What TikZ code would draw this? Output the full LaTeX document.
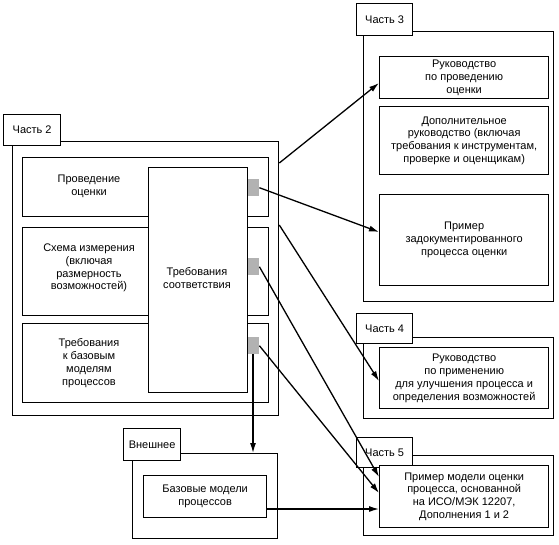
\documentclass[tikz,border=0pt]{standalone}
\usepackage{fontspec}
\setmainfont{Liberation Sans}
\usetikzlibrary{positioning, calc, arrows.meta}

\tikzset{
	frame/.style={draw, line width=1.3pt, fill=white, anchor=north west, inner sep=0pt},
	tag/.style={frame, font=\fontsize{11}{13}\selectfont},
	tab/.style={fill=black!30, anchor=north west, inner sep=0pt, minimum width=11pt, minimum height=17pt},
	txt/.style={align=center, inner sep=0pt, font=\fontsize{11}{12.8}\selectfont},
	link/.style={line width=1.3pt, -{Latex[length=10pt,width=6pt]}}
}

\begin{document}
\begin{tikzpicture}[x=1pt, y=-1pt]
	\useasboundingbox (0,0) rectangle (559,544);
	% outer frames
	\node[frame, minimum width=266pt, minimum height=274pt] (p2) at (12,141) {};
	\node[frame, minimum width=190pt, minimum height=270pt] (p3) at (363,31) {};
	\node[frame, minimum width=190pt, minimum height=81pt] (p4) at (363,337) {};
	\node[frame, minimum width=190pt, minimum height=80pt] (p5) at (363,455) {};
	\node[frame, minimum width=145pt, minimum height=85pt] (ext) at (132,453) {};
	% labels
	\node[tag, minimum width=57pt, minimum height=31pt] (p2l) at (3,114) {Часть 2};
	\node[tag, minimum width=56pt, minimum height=32pt] (p3l) at (356,3) {Часть 3};
	\node[tag, minimum width=56pt, minimum height=30pt] (p4l) at (356,313) {Часть 4};
	\node[tag, minimum width=56pt, minimum height=30pt] (p5l) at (356,437) {Часть 5};
	\node[tag, minimum width=57pt, minimum height=32pt] (extl) at (123,428) {Внешнее};

	% part 2
	\node[frame, minimum width=246pt, minimum height=59pt] (b1) at (22,157) {};
	\node[frame, minimum width=246pt, minimum height=88pt] (b2) at (22,227) {};
	\node[frame, minimum width=246pt, minimum height=79pt] (b3) at (22,323) {};
	\node[frame, minimum width=99pt, minimum height=225pt] (req) at (148,167) {};
	\node[txt] (b1t) at (89,186) {Проведение\\оценки};
	\node[txt] (b2t) at (89,268) {Схема измерения\\(включая\\размерность\\возможностей)};
	\node[txt] (b3t) at (89,363) {Требования\\к базовым\\моделям\\процессов};
	\node[txt] (reqt) at (197,278) {Требования\\соответствия};
	\node[tab] (s1) at (248,179) {};
	\node[tab] (s2) at (248,258) {};
	\node[tab] (s3) at (248,337) {};

	% part 3
	\node[frame, minimum width=169pt, minimum height=42pt] (g1) at (379,56) {};
	\node[frame, minimum width=169pt, minimum height=68pt] (g2) at (379,106) {};
	\node[frame, minimum width=169pt, minimum height=91pt] (g3) at (379,194) {};
	\node[txt] at (g1.center) {Руководство\\по проведению\\оценки};
	\node[txt] at (g2.center) {Дополнительное\\руководство (включая\\требования к инструментам,\\проверке и оценщикам)};
	\node[txt] at (g3.center) {Пример\\задокументированного\\процесса оценки};

	% part 4
	\node[frame, minimum width=169pt, minimum height=61pt] (h1) at (379,347) {};
	\node[txt] at (h1.center) {Руководство\\по применению\\для улучшения процесса и\\определения возможностей};

	% part 5
	\node[frame, minimum width=169pt, minimum height=62pt] (k1) at (379,465) {};
	\node[txt] at (k1.center) {Пример модели оценки\\процесса, основанной\\на ИСО/МЭК 12207,\\Дополнения 1 и 2};

	% external
	\node[frame, minimum width=123pt, minimum height=42pt] (e1) at (143,475) {};
	\node[txt] at (e1.center) {Базовые модели\\процессов};

	% links
	\draw[link] (p2.east |- 0,163) -- (g1.west |- 0,83);
	\draw[link] (s1.east) -- (g3.west |- 0,232);
	\draw[link] (p2.east |- 0,225) -- (h1.west |- 0,381);
	\draw[link] (s2.east) -- (k1.west |- 0,477);
	\draw[link] (s3.east) -- (k1.west |- 0,493);
	\draw[link] (e1.east |- 0,509) -- (k1.west |- 0,509);
	\draw[link] (s3.south -| 253,0) -- (ext.north -| 253,0);
\end{tikzpicture}
\end{document}
